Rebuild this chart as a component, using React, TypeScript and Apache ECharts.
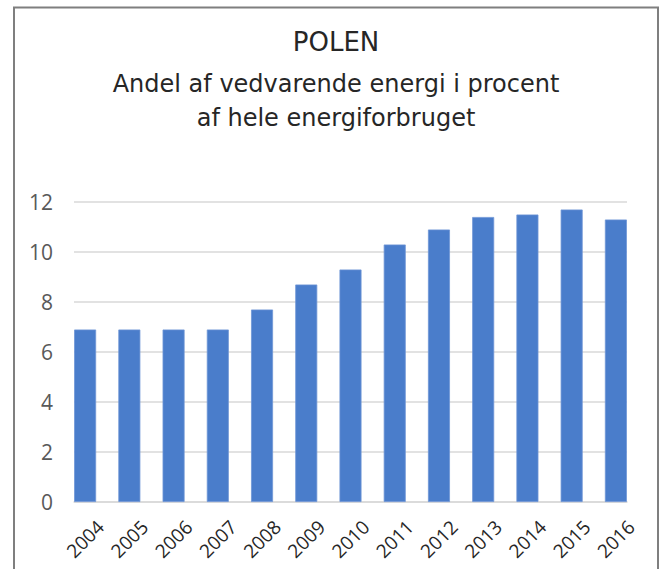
import React, { useEffect, useRef } from "react";
import * as echarts from "echarts";

const years = ["2004", "2005", "2006", "2007", "2008", "2009", "2010", "2011", "2012", "2013", "2014", "2015", "2016"];
const shares = [6.9, 6.9, 6.9, 6.9, 7.7, 8.7, 9.3, 10.3, 10.9, 11.4, 11.5, 11.7, 11.3];
const yTicks = { min: 0, max: 12, step: 2 };
const titleText = "POLEN";
const subtitleLines = ["Andel af vedvarende energi i procent", "af hele energiforbruget"];

const FONT = "'DejaVu Sans', Verdana, sans-serif";
const AXIS_FONT = "'Open Sans', 'Noto Sans', sans-serif";

export default function App() {
  const ref = useRef<HTMLDivElement>(null);
  useEffect(() => {
    document.body.style.margin = "0";
    if (!ref.current) return;
    const chart = echarts.init(ref.current, undefined, { renderer: "svg" });
    chart.setOption({
      animation: false,
      backgroundColor: "#ffffff",
      graphic: [
        {
          type: "polyline",
          silent: true,
          shape: { points: [[14, 600], [14, 7.5], [658, 7.5], [658, 600]] },
          style: { stroke: "#7f7f7f", lineWidth: 2, fill: "none" },
        },
        {
          type: "text",
          x: 336,
          y: 42,
          style: { text: titleText, fill: "#262626", font: `26px ${FONT}`, textAlign: "center", textVerticalAlign: "middle" },
        },
        {
          type: "text",
          x: 336,
          y: 84,
          style: { text: subtitleLines[0], fill: "#262626", font: `24px ${FONT}`, textAlign: "center", textVerticalAlign: "middle" },
        },
        {
          type: "text",
          x: 336,
          y: 118,
          style: { text: subtitleLines[1], fill: "#262626", font: `24px ${FONT}`, textAlign: "center", textVerticalAlign: "middle" },
        },
      ],
      grid: [
        { left: 74, right: 35, top: 202, bottom: 67, containLabel: false },
        { left: 63, right: 24, top: 202, bottom: 67, containLabel: false },
      ],
      xAxis: [
        {
          gridIndex: 0,
          type: "value",
          min: 0,
          max: 1,
          axisLine: { show: true, onZero: false, lineStyle: { color: "#d9d9d9", width: 1.5 } },
          axisTick: { show: false },
          axisLabel: { show: false },
          splitLine: { show: false },
        },
        {
          gridIndex: 1,
          type: "category",
          data: years,
          axisLine: { show: false },
          axisTick: { show: false },
          axisLabel: {
            rotate: 45,
            align: "center",
            verticalAlign: "middle",
            margin: 37,
            interval: 0,
            color: "#262626",
            fontSize: 19,
            fontFamily: AXIS_FONT,
          },
        },
      ],
      yAxis: [
        {
          gridIndex: 0,
          type: "value",
          min: yTicks.min,
          max: yTicks.max,
          interval: yTicks.step,
          axisLine: { show: false },
          axisTick: { show: false },
          splitLine: { show: true, lineStyle: { color: "#d9d9d9", width: 1.5 } },
          axisLabel: { color: "#595959", fontSize: 21, fontFamily: AXIS_FONT, margin: 21 },
        },
        {
          gridIndex: 1,
          type: "value",
          min: yTicks.min,
          max: yTicks.max,
          interval: yTicks.step,
          show: false,
        },
      ],
      series: [
        {
          type: "bar",
          xAxisIndex: 1,
          yAxisIndex: 1,
          data: shares,
          barWidth: 22,
          itemStyle: { color: "#4a7dcb", borderColor: "#6e96d6", borderWidth: 0.8 },
        },
      ],
    });
    return () => chart.dispose();
  }, []);
  return <div ref={ref} style={{ width: 662, height: 569 }} />;
}
